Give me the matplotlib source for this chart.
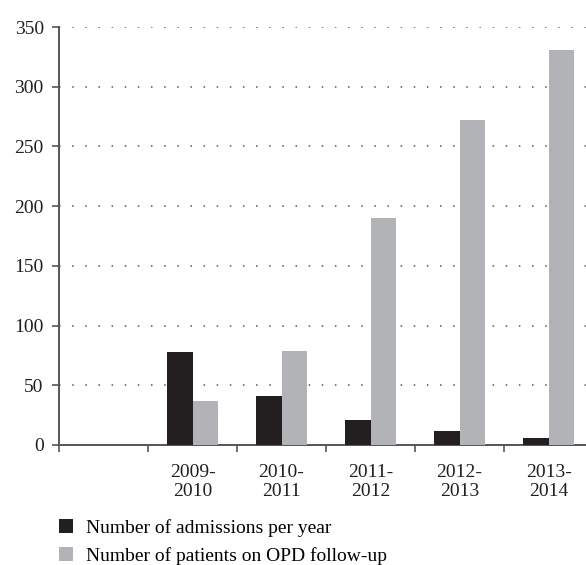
import matplotlib.pyplot as plt
import numpy as np

plt.rcParams['font.family'] = ['Liberation Serif', 'DejaVu Serif']

years = ['', '2009-\n2010', '2010-\n2011', '2011-\n2012', '2012-\n2013', '2013-\n2014']
admissions = [0, 78, 41, 21, 12, 6]
opd_followup = [0, 37, 79, 190, 272, 331]
y_ticks = [0, 50, 100, 150, 200, 250, 300, 350]

dark = '#231f20'
grey = '#b2b3b7'
fs = 14

fig = plt.figure(figsize=(5.86, 5.65), dpi=100)
ax = fig.add_axes([0.1007, 0.2124, 0.8993, 0.7398])

x = np.arange(len(years))
w = 0.29
ax.bar(x[1:] - w / 2, admissions[1:], w, color=dark, zorder=3,
       label='Number of admissions per year')
ax.bar(x[1:] + w / 2, opd_followup[1:], w, color=grey, zorder=3,
       label='Number of patients on OPD follow-up')

ax.set_ylim(0, 350)
ax.set_xlim(-0.5, 5.42)
ax.set_yticks(y_ticks)
ax.set_yticklabels([str(v) for v in y_ticks], fontsize=fs, color='#231f20')

# boundaries carry tick marks, centres carry the labels
ax.set_xticks(np.arange(-0.5, 5.0, 1.0))
ax.set_xticklabels([])
ax.set_xticks(x, minor=True)
ax.set_xticklabels(years, minor=True, fontsize=fs, color='#231f20', linespacing=1.15)
ax.tick_params(axis='x', which='minor', length=0, pad=14)
ax.tick_params(axis='x', which='major', direction='out', length=5, width=1.2, color='#555555')
ax.tick_params(axis='y', direction='out', length=5, width=1.2, color='#555555', pad=6)

ax.yaxis.grid(True, linestyle=(0, (1, 7.6)), color='#555555', linewidth=1.1, zorder=0)
ax.set_axisbelow(True)

for side in ['top', 'right']:
    ax.spines[side].set_visible(False)
for side in ['left', 'bottom']:
    ax.spines[side].set_color('#555555')
    ax.spines[side].set_linewidth(1.4)

fig.legend(loc='upper left', bbox_to_anchor=(0.1, 0.081), frameon=False,
           fontsize=fs, handlelength=0.75, handleheight=0.75, handletextpad=0.65,
           labelspacing=0.5, borderaxespad=0, borderpad=0)

fig.savefig('out.png', dpi=100)
